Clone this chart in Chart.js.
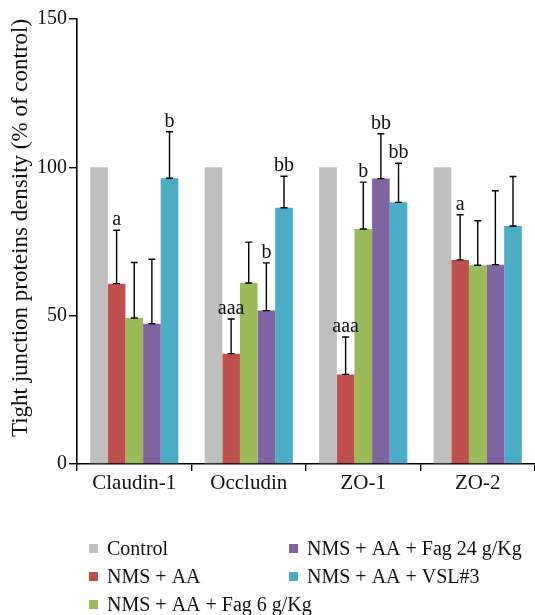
<!DOCTYPE html>
<html>
<head>
<meta charset="utf-8">
<script src="https://cdn.jsdelivr.net/npm/chart.js@4.4.1/dist/chart.umd.min.js"></script>
<style>
  html, body { margin: 0; padding: 0; background: #fff; }
  #wrap { position: relative; width: 535px; height: 615px; }
</style>
</head>
<body>
<div id="wrap"><canvas id="chart"></canvas></div>
<script>
// Data
const categories = ['Claudin-1', 'Occludin', 'ZO-1', 'ZO-2'];
const seriesNames = ['Control', 'NMS + AA', 'NMS + AA + Fag 6 g/Kg', 'NMS + AA + Fag 24 g/Kg', 'NMS + AA + VSL#3'];
const seriesColors = ['#BFBFBF', '#C0504D', '#9BBB59', '#8064A2', '#4BACC6'];

const controlVals = [100, 100, 100, 100];
const nmsVals = [60.8, 37.2, 30.2, 68.8];
const fag6Vals = [49.2, 61.0, 79.2, 67.0];
const fag24Vals = [47.3, 51.7, 96.2, 67.2];
const vslVals = [96.3, 86.4, 88.2, 80.2];

// top of each error bar (mean + SD)
const controlErr = [null, null, null, null];
const nmsErr = [78.8, 48.9, 42.8, 84.0];
const fag6Err = [67.9, 74.8, 95.0, 82.0];
const fag24Err = [69.0, 67.8, 111.3, 92.1];
const vslErr = [112.0, 97.0, 101.4, 96.9];

// significance letters
const controlSig = ['', '', '', ''];
const nmsSig = ['a', 'aaa', 'aaa', 'a'];
const fag6Sig = ['', '', 'b', ''];
const fag24Sig = ['', 'b', 'bb', ''];
const vslSig = ['b', 'bb', 'bb', ''];

const yTicks = [0, 50, 100, 150];
const yTitle = 'Tight junction proteins density (% of control)';

const allVals = [controlVals, nmsVals, fag6Vals, fag24Vals, vslVals];
const allErr = [controlErr, nmsErr, fag6Err, fag24Err, vslErr];
const allSig = [controlSig, nmsSig, fag6Sig, fag24Sig, vslSig];

const FONT = "'Liberation Serif', 'Times New Roman', serif";

const datasets = seriesNames.map((name, i) => ({
    label: name,
    data: allVals[i],
    backgroundColor: seriesColors[i],
    borderWidth: 0,
    barPercentage: 1,
    categoryPercentage: 0.77
}));

// error bars + letters
const errorPlugin = {
    id: 'errorBars',
    afterDatasetsDraw(chart) {
        const ctx = chart.ctx;
        const y = chart.scales.y;
        ctx.save();
        ctx.strokeStyle = '#000';
        ctx.lineWidth = 1.4;
        ctx.fillStyle = '#111';
        ctx.font = '20px ' + FONT;
        ctx.textAlign = 'center';
        ctx.textBaseline = 'alphabetic';
        allErr.forEach((errs, i) => {
            const meta = chart.getDatasetMeta(i);
            meta.data.forEach((bar, j) => {
                const top = errs[j];
                let labelY = bar.y;
                if (top != null) {
                    const yTop = y.getPixelForValue(top);
                    const yBot = bar.y;
                    ctx.beginPath();
                    ctx.moveTo(bar.x, yBot);
                    ctx.lineTo(bar.x, yTop);
                    ctx.moveTo(bar.x - 3.5, yTop);
                    ctx.lineTo(bar.x + 3.5, yTop);
                    ctx.moveTo(bar.x - 3.5, yBot);
                    ctx.lineTo(bar.x + 3.5, yBot);
                    ctx.stroke();
                    labelY = yTop;
                }
                const s = allSig[i][j];
                if (s) ctx.fillText(s, bar.x, labelY - 5);
            });
        });
        ctx.restore();
    }
};

// y title (sits a little above the axis middle in the original) and two-column legend
const extrasPlugin = {
    id: 'extras',
    afterDraw(chart) {
        const ctx = chart.ctx;
        ctx.save();
        ctx.fillStyle = '#111';
        ctx.font = '23px ' + FONT;
        ctx.translate(27, 228);
        ctx.rotate(-Math.PI / 2);
        ctx.textAlign = 'center';
        ctx.textBaseline = 'alphabetic';
        ctx.fillText(yTitle, 0, 0);
        ctx.restore();

        const spots = [
            [89, 555], [89, 583], [89, 611],
            [289, 555], [289, 583]
        ];
        ctx.save();
        ctx.font = '20px ' + FONT;
        ctx.textBaseline = 'alphabetic';
        ctx.textAlign = 'left';
        seriesNames.forEach((name, i) => {
            const [sx, by] = spots[i];
            ctx.fillStyle = seriesColors[i];
            ctx.fillRect(sx, by - 11, 9, 9);
            ctx.fillStyle = '#111';
            ctx.fillText(name, sx + 18, by);
        });
        ctx.restore();
    }
};

new Chart(document.getElementById('chart'), {
    type: 'bar',
    data: { labels: categories, datasets: datasets },
    options: {
        responsive: true,
        maintainAspectRatio: false,
        animation: false,
        layout: { padding: { top: 19, left: 0, right: 0, bottom: 0 } },
        plugins: {
            legend: { display: false },
            tooltip: { enabled: false }
        },
        scales: {
            x: {
                grid: { display: true, drawOnChartArea: false, drawTicks: true, tickLength: 7, color: '#000', lineWidth: 1.4, offset: true },
                border: { display: true, color: '#000', width: 1.6 },
                ticks: { color: '#111', font: { family: FONT, size: 21 }, padding: 0 },
                afterFit(scale) { scale.height = 151; }
            },
            y: {
                min: 0,
                max: 150,
                afterBuildTicks(scale) { scale.ticks = yTicks.map(v => ({ value: v })); },
                grid: { display: true, drawOnChartArea: false, drawTicks: true, tickLength: 8, color: '#000', lineWidth: 1.4 },
                border: { display: true, color: '#000', width: 1.6 },
                ticks: { color: '#111', font: { family: FONT, size: 20 }, padding: 2 },
                afterFit(scale) { scale.width = 77; }
            }
        }
    },
    plugins: [errorPlugin, extrasPlugin]
});
</script>
</body>
</html>
